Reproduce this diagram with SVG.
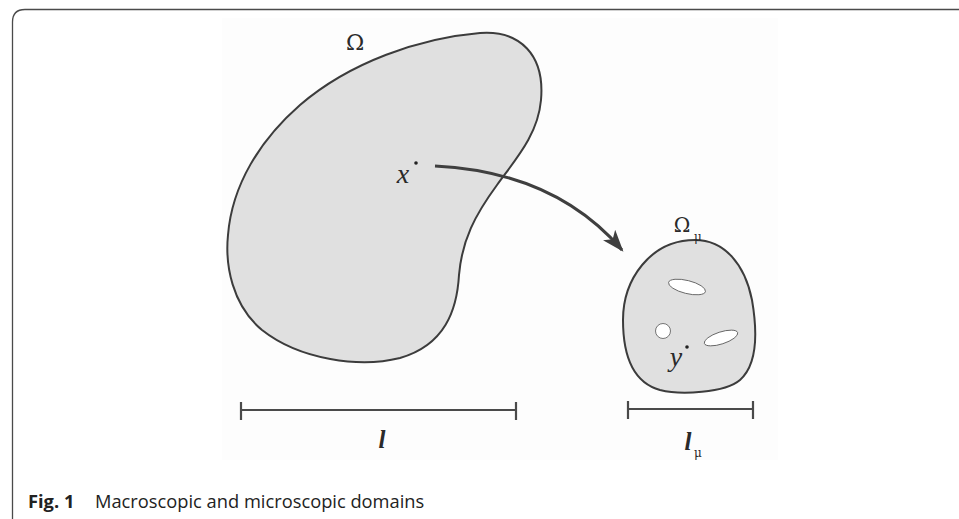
<svg xmlns="http://www.w3.org/2000/svg" width="959" height="519" viewBox="0 0 959 519">
<defs>
<style>
.frame{fill:none;stroke:#4a4a4a;stroke-width:1.3}
.dom{fill:#e0e0e0;stroke:#3c3c3c;stroke-width:2}
.hole{fill:#ffffff;stroke:#555;stroke-width:0.8}
.bar{fill:none;stroke:#4a4a4a;stroke-width:2.2}
.conn{fill:none;stroke:#3f3f3f;stroke-width:3}
.math{font-family:"DejaVu Serif","Liberation Serif",serif;fill:#2a2a2a}
.it{font-family:"Liberation Serif","DejaVu Serif",serif;font-style:italic;fill:#2a2a2a}
.cap{font-family:"Open Sans","Noto Sans",sans-serif;font-size:18.3px;fill:#222}
</style>
<marker id="ah" viewBox="0 0 10 10" refX="9" refY="5" markerWidth="22" markerHeight="16" markerUnits="userSpaceOnUse" orient="auto" preserveAspectRatio="none">
<path d="M0,0 L10,5 L0,10 L2.5,5 Z" fill="#3f3f3f"/>
</marker>
</defs>
<rect width="959" height="519" fill="#ffffff"/>
<path class="frame" d="M12.5,519 V22 Q12.5,9.5 25,9.5 H959"/>
<rect x="222" y="18" width="556" height="442" fill="#fdfdfd"/>

<g id="omega">
<path class="dom" d="M480,33 C520,30 545,55 541,100 C538,135 515,160 497,185 C475,215 462,240 459,275 C457,310 445,345 400,358 C360,368 300,360 262,330 C232,305 225,265 228,235 C232,185 260,140 300,105 C350,62 420,38 480,33 Z"/>
<text class="math" x="355" y="50" font-size="22" text-anchor="middle">Ω</text>
<circle cx="416" cy="163" r="1.8" fill="#222"/>
<text class="it" x="403" y="183" font-size="28" text-anchor="middle">x</text>
</g>

<g id="omega-mu">
<path class="dom" d="M695,240 C725,240 745,265 752,300 C758,335 757,365 740,380 C725,393 680,395 660,390 C635,383 623,360 623,320 C623,280 650,240 695,240 Z"/>
<ellipse class="hole" cx="687" cy="287" rx="19" ry="6.5" transform="rotate(14 687 287)"/>
<circle class="hole" cx="663" cy="331" r="7.5"/>
<ellipse class="hole" cx="721" cy="338" rx="17.5" ry="6" transform="rotate(-18 721 338)"/>
<circle cx="687" cy="347" r="1.8" fill="#222"/>
<text class="it" x="676" y="366" font-size="28" text-anchor="middle">y</text>
<text class="math" x="682" y="232" font-size="20" text-anchor="middle">Ω</text>
<text class="math" x="698" y="241" font-size="12" text-anchor="middle">μ</text>
</g>

<g id="scale-l">
<path class="bar" d="M241,410 H516 M241,402 V420 M516,402 V420"/>
<text class="it" x="382" y="448" font-size="25" font-weight="bold" text-anchor="middle">l</text>
</g>

<g id="scale-lmu">
<path class="bar" d="M628,409 H753 M628,401 V419 M753,401 V419"/>
<text class="it" x="688" y="450" font-size="25" font-weight="bold" text-anchor="middle">l</text>
<text class="math" x="698" y="457" font-size="12" text-anchor="middle">μ</text>
</g>

<g id="connectors">
<path class="conn" d="M435,166 Q555,172 622,250" marker-end="url(#ah)"/>
</g>

<g id="caption">
<text class="cap" x="28" y="508"><tspan font-weight="bold">Fig. 1</tspan><tspan x="95">Macroscopic and microscopic domains</tspan></text>
</g>
</svg>
